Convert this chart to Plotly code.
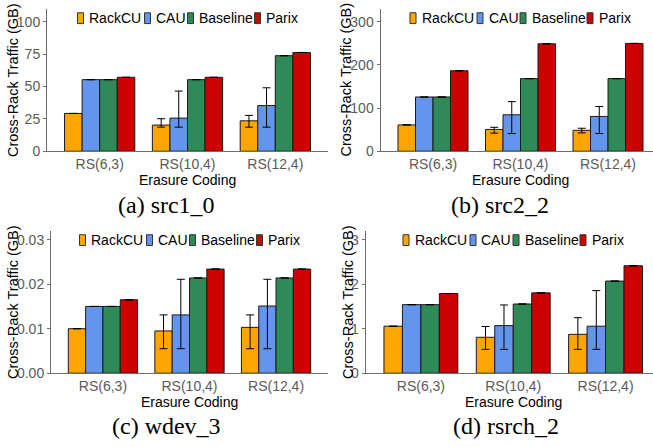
import plotly.graph_objects as go
from plotly.subplots import make_subplots

# ---------------------------------------------------------------- data
categories = ["RS(6,3)", "RS(10,4)", "RS(12,4)"]
methods = ["RackCU", "CAU", "Baseline", "Parix"]
colors = ["#FFA500", "#6495ED", "#2E8B57", "#CD0000"]

# src1_0 : mean value, upper and lower end of the error bar
src1_rackcu = [29.2, 20.2, 23.5]
src1_rackcu_hi = [29.2, 25.1, 27.7]
src1_rackcu_lo = [29.2, 18.6, 18.6]
src1_cau = [55.3, 25.6, 35.3]
src1_cau_hi = [55.3, 46.5, 49.0]
src1_cau_lo = [55.3, 18.6, 18.6]
src1_baseline = [55.3, 55.3, 73.8]
src1_parix = [57.1, 57.1, 76.3]

# src2_2
src2_rackcu = [61.0, 50.5, 48.5]
src2_rackcu_hi = [61.0, 55.5, 53.3]
src2_rackcu_lo = [61.0, 42.0, 42.5]
src2_cau = [125.7, 84.5, 80.7]
src2_cau_hi = [125.7, 115.0, 103.6]
src2_cau_lo = [125.7, 41.0, 41.0]
src2_baseline = [125.7, 168.3, 168.3]
src2_parix = [186.5, 249.0, 249.8]

# wdev_3
wdev_rackcu = [0.0100, 0.0095, 0.0103]
wdev_rackcu_hi = [0.0100, 0.0131, 0.0131]
wdev_rackcu_lo = [0.0100, 0.0055, 0.0055]
wdev_cau = [0.0150, 0.0131, 0.0151]
wdev_cau_hi = [0.0150, 0.0211, 0.0211]
wdev_cau_lo = [0.0150, 0.0055, 0.0055]
wdev_baseline = [0.0150, 0.0214, 0.0214]
wdev_parix = [0.0165, 0.0234, 0.0234]

# rsrch_2
rsrch_rackcu = [1.056, 0.807, 0.873]
rsrch_rackcu_hi = [1.056, 1.049, 1.247]
rsrch_rackcu_lo = [1.056, 0.536, 0.536]
rsrch_cau = [1.54, 1.07, 1.056]
rsrch_cau_hi = [1.54, 1.533, 1.856]
rsrch_cau_lo = [1.54, 0.536, 0.536]
rsrch_baseline = [1.54, 1.555, 2.07]
rsrch_parix = [1.79, 1.805, 2.414]

captions = ["(a) src1_0", "(b) src2_2", "(c) wdev_3", "(d) rsrch_2"]
y_ticks = [[0, 25, 50, 75, 100], [0, 100, 200, 300],
           [0, 0.01, 0.02, 0.03], [0, 1, 2, 3]]
y_ticktext = [["0", "25", "50", "75", "100"], ["0", "100", "200", "300"],
              ["0.00", "0.01", "0.02", "0.03"], ["0", "1", "2", "3"]]
y_max = [110, 330, 0.032, 3.2]

panels = [
    [(src1_rackcu, src1_rackcu_hi, src1_rackcu_lo),
     (src1_cau, src1_cau_hi, src1_cau_lo),
     (src1_baseline, src1_baseline, src1_baseline),
     (src1_parix, src1_parix, src1_parix)],
    [(src2_rackcu, src2_rackcu_hi, src2_rackcu_lo),
     (src2_cau, src2_cau_hi, src2_cau_lo),
     (src2_baseline, src2_baseline, src2_baseline),
     (src2_parix, src2_parix, src2_parix)],
    [(wdev_rackcu, wdev_rackcu_hi, wdev_rackcu_lo),
     (wdev_cau, wdev_cau_hi, wdev_cau_lo),
     (wdev_baseline, wdev_baseline, wdev_baseline),
     (wdev_parix, wdev_parix, wdev_parix)],
    [(rsrch_rackcu, rsrch_rackcu_hi, rsrch_rackcu_lo),
     (rsrch_cau, rsrch_cau_hi, rsrch_cau_lo),
     (rsrch_baseline, rsrch_baseline, rsrch_baseline),
     (rsrch_parix, rsrch_parix, rsrch_parix)],
]

# ---------------------------------------------------------------- layout (pixels)
W, H = 653, 447
SANS = "Liberation Sans, Arial, sans-serif"
SERIF = "Liberation Serif, Times New Roman, serif"

# plot area of each panel: left, right, top, bottom, x-range end
boxes = [
    (47.0, 328.0, 9.0, 154.0, 2.6),
    (380.5, 653.0, 9.0, 154.0, 2.514),
    (51.0, 328.0, 235.0, 380.0, 2.6),
    (365.5, 653.0, 235.0, 380.0, 2.514),
]
# centre of each panel including the part cut off at the right edge
panel_cx = [187.5, 520.0, 189.5, 513.0]
ytitle_x = [13.0, 346.5, 13.0, 348.0]
caption_cx = [166.0, 500.0, 166.0, 506.0]
caption_y = [209.0, 209.0, 434.0, 434.0]
xtitle_y = [183.0, 183.0, 409.0, 409.0]


def px(x):
    return x / W


def py(y):
    return 1 - y / H


fig = make_subplots(rows=2, cols=2)

for p, series in enumerate(panels):
    r, c = p // 2 + 1, p % 2 + 1
    for m, (vals, hi, lo) in enumerate(series):
        fig.add_trace(
            go.Bar(
                x=categories, y=vals, name=methods[m], showlegend=False,
                marker=dict(color=colors[m], line=dict(color="#1a1a1a", width=1)),
                error_y=dict(
                    type="data", symmetric=False,
                    array=[h - v for h, v in zip(hi, vals)],
                    arrayminus=[v - l for v, l in zip(vals, lo)],
                    color="black", thickness=1, width=4,
                ),
            ),
            row=r, col=c,
        )

axis_common = dict(
    showline=True, linecolor="#6e6e6e", linewidth=1,
    tickcolor="#6e6e6e", tickwidth=1,
    showgrid=False, zeroline=False,
    tickfont=dict(family=SANS, size=14, color="#5a5a5a"),
)

shapes = []
annotations = []
for p in range(4):
    left, right, top, bottom, xend = boxes[p]
    sfx = "" if p == 0 else str(p + 1)
    fig.layout["xaxis" + sfx].update(
        domain=[px(left), px(right)], range=[-0.6, xend],
        type="category", ticks="", **axis_common,
    )
    fig.layout["yaxis" + sfx].update(
        domain=[py(bottom), py(top)], range=[0, y_max[p]],
        ticks="outside", ticklen=3,
        tickvals=y_ticks[p], ticktext=y_ticktext[p], **axis_common,
    )

    # axis titles
    annotations.append(dict(
        text="Cross-Rack Traffic (GB)", x=px(ytitle_x[p]), y=py((top + bottom) / 2),
        xref="paper", yref="paper", textangle=-90, showarrow=False,
        xanchor="center", yanchor="middle",
        font=dict(family=SANS, size=14.5, color="black"),
    ))
    annotations.append(dict(
        text="Erasure Coding", x=px(panel_cx[p]), y=py(xtitle_y[p]),
        xref="paper", yref="paper", showarrow=False,
        xanchor="center", yanchor="middle",
        font=dict(family=SANS, size=14, color="black"),
    ))
    # sub-figure caption
    annotations.append(dict(
        text=captions[p], x=px(caption_cx[p]), y=py(caption_y[p]),
        xref="paper", yref="paper", showarrow=False,
        xanchor="center", yanchor="middle",
        font=dict(family=SERIF, size=24, color="black"),
    ))

    # legend row at the top of the panel
    key_offsets = [0, 67, 110, 177]
    leg_left = panel_cx[p] - 110
    leg_y = top + 9.5
    for m, name in enumerate(methods):
        kx = leg_left + key_offsets[m]
        shapes.append(dict(
            type="rect", xref="paper", yref="paper",
            x0=px(kx), x1=px(kx + 6), y0=py(leg_y + 5.5), y1=py(leg_y - 5.5),
            fillcolor=colors[m], line=dict(color="#333333", width=1),
        ))
        annotations.append(dict(
            text=name, x=px(kx + 9.5), y=py(leg_y), xref="paper", yref="paper",
            showarrow=False, xanchor="left", yanchor="middle",
            font=dict(family=SANS, size=14, color="black"),
        ))

fig.update_layout(
    width=W, height=H, margin=dict(l=0, r=0, t=0, b=0),
    paper_bgcolor="white", plot_bgcolor="white",
    barmode="group", bargap=0.2, bargroupgap=0,
    shapes=shapes, annotations=annotations, showlegend=False,
)

fig.write_html("out.html")
